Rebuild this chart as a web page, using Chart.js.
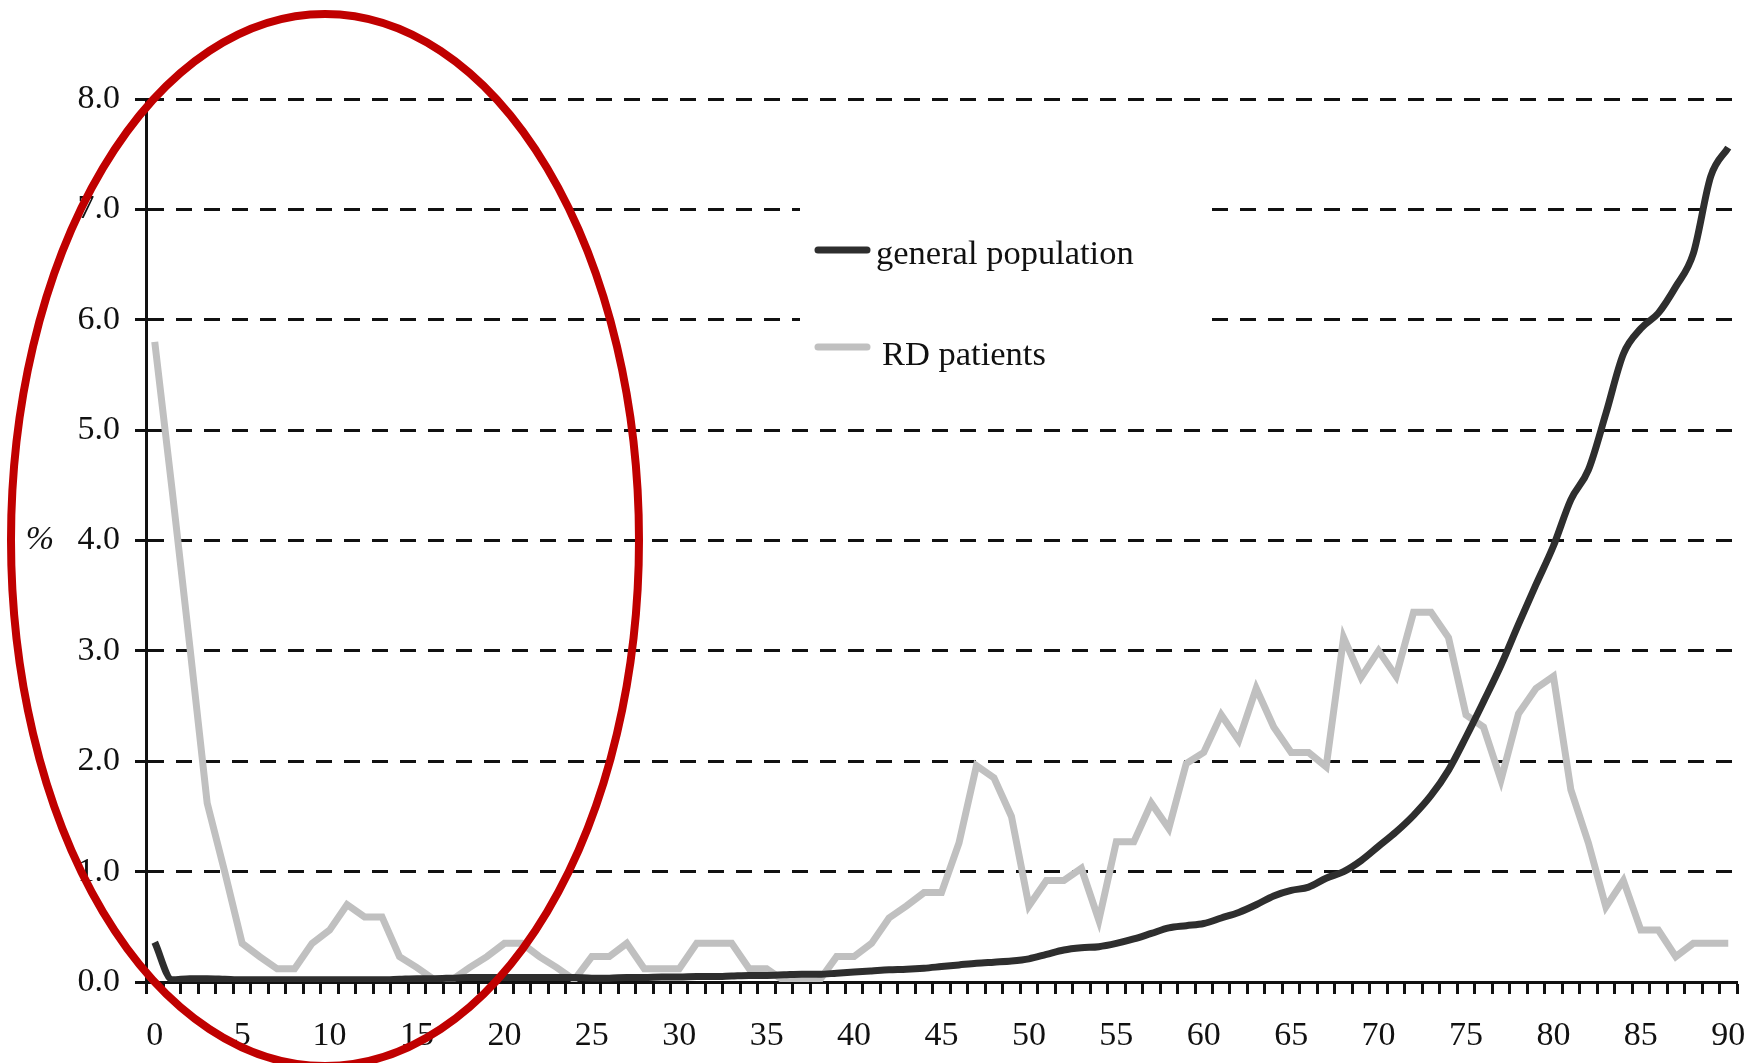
<!DOCTYPE html>
<html>
<head>
<meta charset="utf-8">
<script src="https://cdn.jsdelivr.net/npm/chart.js@4.4.1/dist/chart.umd.min.js"></script>
<style>
  body { margin: 0; background: #fff; }
</style>
</head>
<body>
<canvas id="myChart" width="1758" height="1063"></canvas>
<script>
// age in years
const ages = [
  0, 1, 2, 3, 4, 5, 6, 7, 8, 9,
  10, 11, 12, 13, 14, 15, 16, 17, 18, 19,
  20, 21, 22, 23, 24, 25, 26, 27, 28, 29,
  30, 31, 32, 33, 34, 35, 36, 37, 38, 39,
  40, 41, 42, 43, 44, 45, 46, 47, 48, 49,
  50, 51, 52, 53, 54, 55, 56, 57, 58, 59,
  60, 61, 62, 63, 64, 65, 66, 67, 68, 69,
  70, 71, 72, 73, 74, 75, 76, 77, 78, 79,
  80, 81, 82, 83, 84, 85, 86, 87, 88, 89,
  90
];
const labelledAges = [0, 5, 10, 15, 20, 25, 30, 35, 40, 45, 50, 55, 60, 65, 70, 75, 80, 85, 90];
const yTicks = [0, 1, 2, 3, 4, 5, 6, 7, 8];

const generalPopulation = [
  0.36, 0.02, 0.03, 0.03, 0.025, 0.02, 0.02, 0.02, 0.02, 0.02,
  0.02, 0.02, 0.02, 0.02, 0.025, 0.03, 0.03, 0.035, 0.04, 0.04,
  0.04, 0.04, 0.04, 0.04, 0.04, 0.035, 0.035, 0.04, 0.04, 0.045,
  0.045, 0.05, 0.05, 0.055, 0.06, 0.06, 0.065, 0.07, 0.07, 0.08,
  0.09, 0.1, 0.11, 0.115, 0.125, 0.14, 0.155, 0.17, 0.18, 0.19,
  0.21, 0.25, 0.29, 0.31, 0.32, 0.35, 0.39, 0.44, 0.49, 0.51,
  0.53, 0.58, 0.63, 0.7, 0.78, 0.83, 0.86, 0.94, 1.0, 1.1,
  1.23, 1.36, 1.51, 1.69, 1.92, 2.22, 2.54, 2.87, 3.24, 3.6,
  3.95, 4.37, 4.64, 5.15, 5.69, 5.92, 6.06, 6.3, 6.6, 7.3,
  7.56
];
const rdPatients = [
  5.8, 4.45, 3.05, 1.62, 1.0, 0.35, 0.23, 0.12, 0.12, 0.35,
  0.47, 0.7, 0.59, 0.59, 0.23, 0.13, 0.02, 0.02, 0.13, 0.23,
  0.35, 0.35, 0.23, 0.13, 0.02, 0.23, 0.23, 0.35, 0.12, 0.12,
  0.12, 0.35, 0.35, 0.35, 0.12, 0.12, 0.01, 0.01, 0.01, 0.23,
  0.23, 0.35, 0.58, 0.69, 0.81, 0.81, 1.26, 1.96, 1.85, 1.5,
  0.69, 0.92, 0.92, 1.03, 0.56, 1.27, 1.27, 1.62, 1.39, 1.98,
  2.08, 2.42, 2.19, 2.66, 2.31, 2.08, 2.08, 1.95, 3.12, 2.76,
  3.0, 2.77, 3.35, 3.35, 3.12, 2.42, 2.31, 1.83, 2.43, 2.66,
  2.77, 1.74, 1.26, 0.68, 0.92, 0.47, 0.47, 0.23, 0.35, 0.35,
  0.35
];

const seriesNames = ['general population', 'RD patients'];
const seriesColors = ['#2e2e2e', '#c0c0c0'];

const serif = "'Liberation Serif', 'Times New Roman', serif";

// legend inside the plot, on a white box that breaks the grid lines
const innerLegend = {
  id: 'innerLegend',
  beforeDatasetsDraw(chart) {
    const ctx = chart.ctx;
    ctx.save();
    ctx.fillStyle = '#fff';
    ctx.fillRect(800, 150, 408, 240);
    ctx.restore();
  },
  afterDatasetsDraw(chart) {
    const ctx = chart.ctx;
    ctx.save();
    ctx.font = '34.5px ' + serif;
    ctx.fillStyle = '#111';
    ctx.textBaseline = 'alphabetic';
    ctx.lineCap = 'round';
    ctx.lineWidth = 7;
    const rows = [[250, 264, 876], [347, 365, 882]];
    rows.forEach((r, i) => {
      ctx.strokeStyle = seriesColors[i];
      ctx.beginPath();
      ctx.moveTo(818, r[0]);
      ctx.lineTo(867, r[0]);
      ctx.stroke();
      ctx.fillText(seriesNames[i], r[2], r[1]);
    });
    // "%" unit label beside the y axis
    ctx.font = 'italic 34px ' + serif;
    ctx.textAlign = 'center';
    ctx.textBaseline = 'middle';
    ctx.fillText('%', 40, chart.scales.y.getPixelForValue(4));
    ctx.restore();
  },
  afterDraw(chart) {
    // red highlight ellipse
    const ctx = chart.ctx;
    ctx.save();
    ctx.strokeStyle = '#c00000';
    ctx.lineWidth = 8;
    ctx.beginPath();
    ctx.ellipse(325, 540, 314, 526, 0, 0, Math.PI * 2);
    ctx.stroke();
    ctx.restore();
  }
};

const ctx = document.getElementById('myChart');

new Chart(ctx, {
  type: 'line',
  data: {
    labels: ages,
    datasets: [{
      label: seriesNames[0],
      data: generalPopulation,
      borderColor: seriesColors[0],
      borderWidth: 7,
      pointRadius: 0,
      cubicInterpolationMode: 'monotone'
    }, {
      label: seriesNames[1],
      data: rdPatients,
      borderColor: seriesColors[1],
      borderWidth: 7,
      pointRadius: 0,
      tension: 0
    }]
  },
  options: {
    responsive: false,
    animation: false,
    devicePixelRatio: 1,
    layout: { padding: { top: 99, right: 21, left: 0, bottom: 0 } },
    plugins: {
      legend: { display: false },
      tooltip: { enabled: false }
    },
    scales: {
      x: {
        type: 'category',
        offset: true,
        afterFit(scale) {
          scale.height = 81;
          scale.paddingLeft = 0;
          scale.paddingRight = 0;
        },
        grid: {
          offset: true,
          drawOnChartArea: false,
          drawTicks: true,
          tickLength: 12,
          tickWidth: 3,
          tickColor: '#111'
        },
        border: { display: true, color: '#111', width: 3 },
        ticks: {
          autoSkip: false,
          maxRotation: 0,
          padding: 22,
          color: '#111',
          font: { family: serif, size: 34 },
          callback(value, index) {
            return labelledAges.includes(ages[index]) ? String(ages[index]) : '';
          }
        }
      },
      y: {
        min: yTicks[0],
        max: yTicks[yTicks.length - 1],
        afterFit(scale) { scale.width = 146; },
        afterBuildTicks(scale) { scale.ticks = yTicks.map(v => ({ value: v })); },
        grid: {
          color: '#111',
          lineWidth: 3,
          tickLength: 11,
          tickWidth: 3,
          tickColor: '#111',
          tickBorderDash: []
        },
        border: { display: true, color: '#111', width: 3, dash: [16, 12] },
        ticks: {
          padding: 15,
          color: '#111',
          font: { family: serif, size: 34 },
          callback(value) { return value.toFixed(1); }
        }
      }
    }
  },
  plugins: [innerLegend]
});
</script>
</body>
</html>
